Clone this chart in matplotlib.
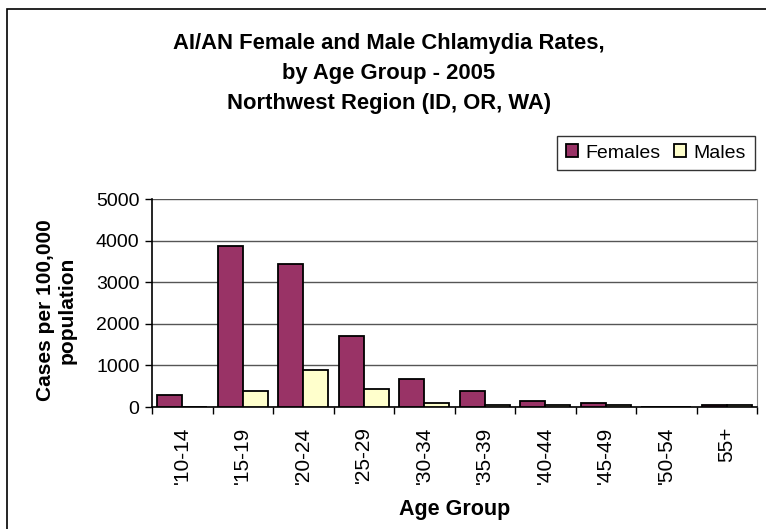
import matplotlib
matplotlib.use("Agg")
import matplotlib.pyplot as plt
import numpy as np
from matplotlib.patches import Rectangle

plt.rcParams["font.family"] = ["Liberation Sans", "DejaVu Sans"]

age_groups = ["'10-14", "'15-19", "'20-24", "'25-29", "'30-34",
              "'35-39", "'40-44", "'45-49", "'50-54", "55+"]
females = [280, 3870, 3445, 1700, 665, 378, 145, 104, 0, 56]
males = [0, 378, 900, 425, 104, 45, 45, 45, 0, 45]

W, H = 766, 529
fig = plt.figure(figsize=(W / 100, H / 100), dpi=100)

# outer chart frame (right/bottom edges fall outside the crop)
fig.patches.append(Rectangle((7 / W, -0.1), 1.2, 1 - 9 / H + 0.1,
                             transform=fig.transFigure, fill=False,
                             edgecolor="black", linewidth=1.2))

ax = fig.add_axes([152 / W, 1 - 407 / H, (757 - 152) / W, (407 - 199) / H])

x = np.arange(len(age_groups))
bw = 0.4125
ax.bar(x - bw / 2, females, bw, color="#993366", edgecolor="black",
       linewidth=1.3, label="Females", zorder=3)
ax.bar(x + bw / 2, males, bw, color="#FFFFCC", edgecolor="black",
       linewidth=1.3, label="Males", zorder=3)

ax.set_xlim(-0.5, len(age_groups) - 0.5)
ax.set_ylim(0, 5000)
ax.set_yticks(np.arange(0, 5001, 1000))
ax.yaxis.grid(True, color="#555555", linewidth=1.0, zorder=0)

ax.set_xticks(x)
ax.set_xticklabels(age_groups, rotation=90, fontsize=15)
ax.set_xticks(np.arange(-0.5, len(age_groups)), minor=True)
ax.tick_params(axis="x", which="major", length=0, pad=14)
ax.tick_params(axis="x", which="minor", length=5, width=1)
ax.tick_params(axis="y", labelsize=14, length=5, width=1, pad=4)

ax.spines["top"].set_visible(False)
ax.spines["right"].set_color("#888888")
ax.spines["left"].set_linewidth(1.2)
ax.spines["bottom"].set_linewidth(1.2)

ax.set_xlabel("Age Group", fontsize=15.5, fontweight="bold", labelpad=11)
fig.text(56 / W, 1 - 310 / H, "Cases per 100,000\npopulation", rotation=90,
         ha="center", va="center", fontsize=15, fontweight="bold",
         linespacing=1.15)

title_lines = ["AI/AN Female and Male Chlamydia Rates,",
               "by Age Group - 2005",
               "Northwest Region (ID, OR, WA)"]
for i, line in enumerate(title_lines):
    fig.text(389 / W, 1 - (48.5 + 30.5 * i) / H, line, ha="center",
             va="baseline", fontsize=15.8, fontweight="bold")

leg = fig.legend(loc="center", bbox_to_anchor=(656 / W, 1 - 153 / H),
                 ncol=2, fontsize=14, frameon=True, fancybox=False,
                 edgecolor="black", handlelength=0.6, handleheight=0.6,
                 handletextpad=0.4, columnspacing=0.7, borderpad=0.45,
                 borderaxespad=0)
leg.get_frame().set_linewidth(1.0)

fig.savefig("out.png", dpi=100)
